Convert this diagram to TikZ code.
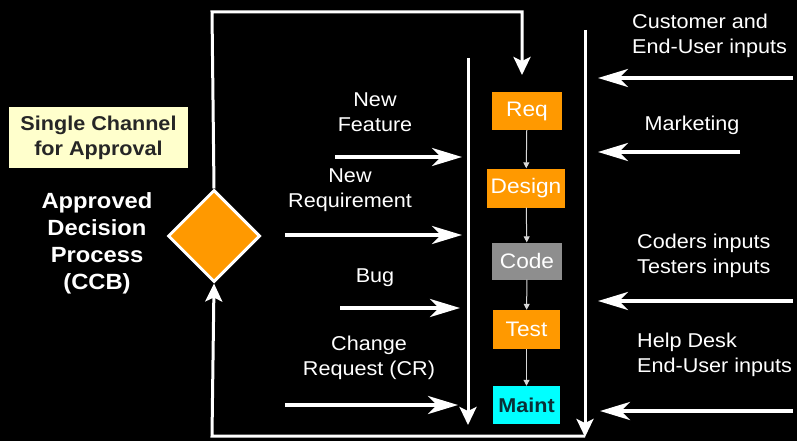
\documentclass[tikz,border=0pt]{standalone}
\usepackage{fontspec}
\setmainfont{Liberation Sans}[FakeStretch=1.08]
\usetikzlibrary{arrows.meta,shapes.geometric}
\definecolor{phaseorange}{HTML}{FF9900}
\definecolor{phasegray}{HTML}{8E8E8E}
\definecolor{phasecyan}{HTML}{00FFFF}
\definecolor{mainttext}{HTML}{0A2F36}
\definecolor{notefill}{HTML}{FFFFCC}
\definecolor{flowgray}{HTML}{D8D8D8}
\begin{document}
\begin{tikzpicture}[x=1pt,y=-1pt,
  lbl/.style={text=white,inner sep=0pt,align=center,font=\fontsize{20}{25}\selectfont},
  lbll/.style={lbl,align=left,anchor=west},
  phasebase/.style={inner sep=0pt,font=\fontsize{21}{24}\selectfont},
  phase/.style={phasebase,text=white},
  feed/.style={white,line width=4pt,-{Stealth[length=30pt,width=18pt,inset=9pt]}},
  bar/.style={white,line width=3pt},
  bartip/.style={bar,-{Stealth[length=18pt,width=17pt,inset=4pt]}},
  flow/.style={flowgray,line width=1pt,-{Triangle[length=6pt,width=6pt]}}
]
\fill[black] (0,0) rectangle (797,441);
\useasboundingbox (0,0) rectangle (797,441);

% life-cycle phases
\node[phase,fill=phaseorange,minimum width=70pt,minimum height=38pt] (req) at (527,111) {Req};
\node[phase,fill=phaseorange,minimum width=78pt,minimum height=39pt] (design) at (526,188) {Design};
\node[phase,fill=phasegray,minimum width=70pt,minimum height=37pt] (code) at (527,261) {Code};
\node[phase,fill=phaseorange,minimum width=67pt,minimum height=39pt] (test) at (526.5,329.5) {Test};
\node[phasebase,fill=phasecyan,text=mainttext,font=\bfseries\fontsize{20}{24}\selectfont,
      minimum width=67pt,minimum height=38pt] (maint) at (526.5,405) {Maint};

\draw[flow] (req) -- (design);
\draw[flow] (design) -- (code);
\draw[flow] (code) -- (test);
\draw[flow] (test) -- (maint);

% decision diamond and its notes
\node[diamond,aspect=1,fill=phaseorange,draw=white,line width=3pt,minimum size=92pt,inner sep=0pt] (ccb) at (214,236) {};
\node[fill=notefill,minimum width=179pt,minimum height=61pt,inner sep=0pt,align=center,
      text=black!85,font=\bfseries\fontsize{20}{25}\selectfont] (note) at (98.5,137.5) {Single Channel\\for Approval};
\node[lbl,font=\bfseries\fontsize{22}{27}\selectfont] (proc) at (97,243) {Approved\\Decision\\Process\\(CCB)};

% collecting bars
\coordinate (ltop) at (468,58);
\coordinate (lbot) at (468,425);
\coordinate (rtop) at (585,30);
\coordinate (rbot) at (585,437);
\coordinate (ttl) at (212,12);
\coordinate (ttr) at (522,12);
\coordinate (tin) at (522,75);
\coordinate (bbl) at (212,436);
\coordinate (bbr) at (585,436);

\draw[bartip] (ltop) -- (lbot);
\draw[bartip] (rtop) -- (rbot);
\draw[bartip] (ccb.north) -- (ttl) -- (ttr) -- (tin);
\draw[bartip] (bbr) -- (bbl) -- (ccb.south);

% change sources on the left
\coordinate (nfa) at (335,157); \coordinate (nfb) at (462,157);
\coordinate (nra) at (285,235); \coordinate (nrb) at (462,235);
\coordinate (bga) at (340,308); \coordinate (bgb) at (460,308);
\coordinate (cra) at (285,405); \coordinate (crb) at (458,405);
\draw[feed] (nfa) -- (nfb);
\draw[feed] (nra) -- (nrb);
\draw[feed] (bga) -- (bgb);
\draw[feed] (cra) -- (crb);
\node[lbl] (tnf) at (375,112.5) {New\\Feature};
\node[lbl] (tnr) at (350,190.5) {New\\Requirement};
\node[lbl] (tbg) at (375,278) {Bug};
\node[lbl] (tcr) at (369,357.5) {Change\\Request (CR)};

% input sources on the right
\coordinate (cua) at (793,78); \coordinate (cub) at (598,78);
\coordinate (mka) at (740,152); \coordinate (mkb) at (598,152);
\coordinate (coa) at (793,301); \coordinate (cob) at (598,301);
\coordinate (hda) at (793,411); \coordinate (hdb) at (600,411);
\draw[feed] (cua) -- (cub);
\draw[feed] (mka) -- (mkb);
\draw[feed] (coa) -- (cob);
\draw[feed] (hda) -- (hdb);
\node[lbll] (tcu) at (632,35.5) {Customer and\\End-User inputs};
\node[lbl] (tmk) at (692,125) {Marketing};
\node[lbll] (tco) at (637,255.5) {Coders inputs\\Testers inputs};
\node[lbll] (thd) at (637,355) {Help Desk\\End-User inputs};
\end{tikzpicture}
\end{document}
